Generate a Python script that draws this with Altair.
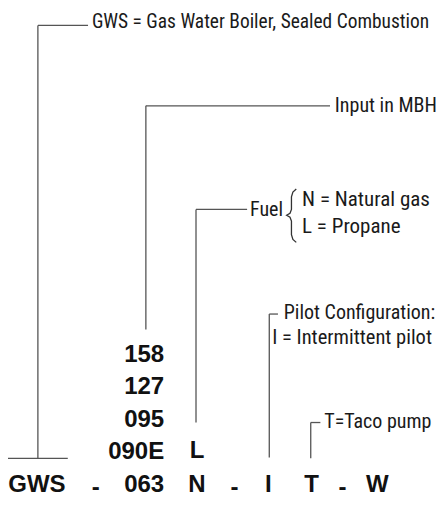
import altair as alt
import pandas as pd

# ---- leader lines (diagram units: x to the right, y downward) ----
seg_x1 = [31, 31, 0, 143, 143, 195, 195, 271, 271, 314, 314]
seg_y1 = [18, 18, 465, 101, 101, 208, 208, 316, 316, 428, 428]
seg_x2 = [83, 31, 62, 334, 143, 248, 195, 280, 271, 324, 314]
seg_y2 = [18, 465, 465, 101, 332, 208, 428, 316, 464, 428, 465]

# ---- explanatory labels ----
note_text = ["GWS = Gas Water Boiler, Sealed Combustion", "Input in MBH", "Fuel",
             "N = Natural gas", "L = Propane", "Pilot Configuration:",
             "I = Intermittent pilot", "T=Taco pump"]
note_x = [87, 339, 251, 305, 305, 286, 274, 328]
note_y = [14, 101, 209, 198, 226, 315, 341, 427]
note_size = [19.4, 20, 20, 21, 21, 20, 20.5, 20]

# ---- stacked model-size codes (right aligned) ----
size_codes = ["158", "127", "095", "090E", "063"]
size_x = [162, 162, 162, 162, 162]
size_y = [358, 391, 425, 458, 492]

# ---- model number row ----
code_text = ["GWS", "-", "N", "-", "I", "T", "-", "W", "L"]
code_x = [30, 91, 196, 235, 270, 315, 347, 383, 196]
code_y = [492, 496, 492, 496, 492, 492, 496, 492, 457]

# ---- brace outline ----
brace_x = [299, 295.5, 294, 294, 292.5, 289, 292.5, 294, 294, 295.5, 299]
brace_y = [187, 190, 195, 208, 212, 214, 216, 220, 234, 239, 242]

X = alt.Scale(domain=[0, 446], nice=False, zero=False)
Y = alt.Scale(domain=[0, 508], nice=False, zero=False, reverse=True)

segs = pd.DataFrame({"x": seg_x1, "y": seg_y1, "x2": seg_x2, "y2": seg_y2})
notes = pd.DataFrame({"t": note_text, "x": note_x, "y": note_y, "s": note_size})
sizes = pd.DataFrame({"t": size_codes, "x": size_x, "y": size_y})
codes = pd.DataFrame({"t": code_text, "x": code_x, "y": code_y})
brace = pd.DataFrame({"x": brace_x, "y": brace_y, "o": list(range(len(brace_x)))})

lines = alt.Chart(segs).mark_rule(color="#555555", strokeWidth=1.3).encode(
    x=alt.X("x:Q", scale=X, axis=None),
    y=alt.Y("y:Q", scale=Y, axis=None),
    x2="x2:Q", y2="y2:Q")

brace_line = alt.Chart(brace).mark_line(color="#333333", strokeWidth=1.3,
                                        interpolate="linear").encode(
    x=alt.X("x:Q", scale=X, axis=None),
    y=alt.Y("y:Q", scale=Y, axis=None),
    order="o:O")

note_marks = alt.Chart(notes).mark_text(
    align="left", baseline="middle",
    font="Roboto Condensed",
    color="#1a1a1a").encode(
    x=alt.X("x:Q", scale=X, axis=None),
    y=alt.Y("y:Q", scale=Y, axis=None),
    size=alt.Size("s:Q", scale=None, legend=None),
    text="t:N")

size_marks = alt.Chart(sizes).mark_text(
    align="right", baseline="middle", fontSize=24, fontWeight="bold",
    font="Liberation Sans", color="#111111").encode(
    x=alt.X("x:Q", scale=X, axis=None),
    y=alt.Y("y:Q", scale=Y, axis=None),
    text="t:N")

code_marks = alt.Chart(codes).mark_text(
    align="center", baseline="middle", fontSize=24, fontWeight="bold",
    font="Liberation Sans", color="#111111").encode(
    x=alt.X("x:Q", scale=X, axis=None),
    y=alt.Y("y:Q", scale=Y, axis=None),
    text="t:N")

chart = alt.layer(lines, brace_line, note_marks, size_marks, code_marks).properties(
    width=430, height=492, padding=0, autosize=alt.AutoSizeParams(type="none"),
    background="white"
).configure_view(stroke=None)

chart.save("out.html", embed_options={"renderer": "svg", "actions": False})
